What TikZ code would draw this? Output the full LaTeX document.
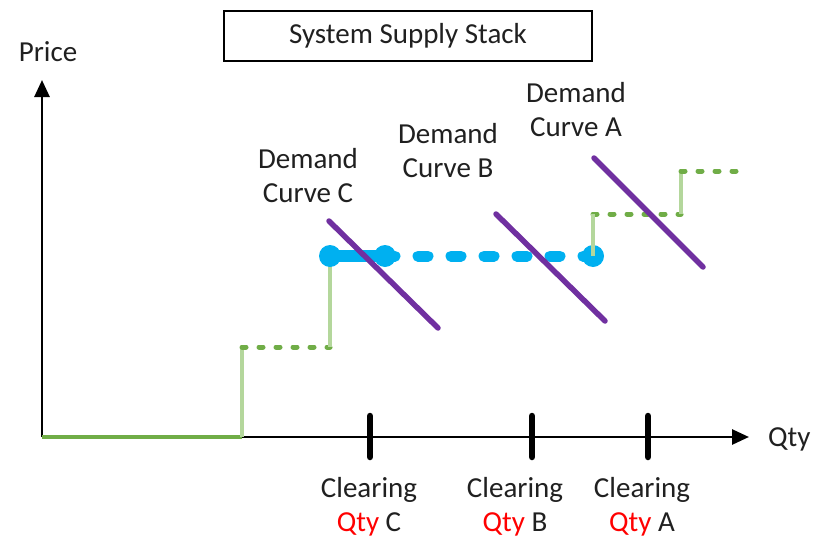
\documentclass[tikz,border=0pt]{standalone}
\usepackage{fontspec}
\setmainfont{Carlito}
\usetikzlibrary{arrows.meta}
\definecolor{demandpurple}{HTML}{7030A0}
\definecolor{clearblue}{HTML}{00B0F0}
\definecolor{stepgreen}{HTML}{70AD47}
\definecolor{riselight}{HTML}{B4D79C}
\definecolor{labelgray}{HTML}{202020}
\begin{document}
\begin{tikzpicture}[x=1pt,y=-1pt,
  lbl/.style={font=\fontsize{29}{34}\selectfont, text=labelgray, align=center, inner sep=0pt},
  axis/.style={line width=2.8pt, -{Triangle[length=17pt,width=15pt]}},
  tickmark/.style={line width=6.5pt, line cap=round},
  riser/.style={line width=3.4pt, riselight},
  offer/.style={line width=5pt, stepgreen, line cap=round, dash pattern=on 4pt off 13pt},
  demand/.style={line width=5.5pt, demandpurple, line cap=round},
  clearing/.style={line width=12pt, clearblue, line cap=round},
  clearingdash/.style={line width=11pt, clearblue, line cap=round, dash pattern=on 10pt off 23pt},
  dot/.style={circle, fill=clearblue, minimum size=22pt, inner sep=0pt}]
\useasboundingbox (0,0) rectangle (827,538);

% title
\node[draw, line width=2.8pt, minimum width=368pt, minimum height=50pt, lbl] (title) at (408,36) {System Supply Stack};

% axes
\coordinate (O) at (42,437);
\coordinate (ytip) at (42,80);
\coordinate (xtip) at (749,437);
\draw[axis] (O) -- (ytip);
\draw[axis] (O) -- (xtip);
\node[lbl] (price) at (48,52) {Price};
\node[lbl, anchor=west] (qty) at (768,439) {Qty};

% supply stack steps
\coordinate (s0) at (242,437);
\coordinate (s1) at (242,347);
\coordinate (s2) at (330,347);
\coordinate (s3) at (330,256);
\coordinate (s4) at (593,256);
\coordinate (s5) at (593,214);
\coordinate (s6) at (681,214);
\coordinate (s7) at (681,171);
\coordinate (s8) at (747,171);
\draw[line width=4.2pt, stepgreen] (O) -- (s0);
\draw[riser] (s0) -- (s1);
\draw[offer] (s1) -- (s2);
\draw[riser] (s2) -- (s3);
\draw[offer] (s5) -- (s6);
\draw[riser] (s6) -- (s7);
\draw[offer] (s7) -- (s8);

% clearing price segment
\coordinate (b1) at (385,256);
\draw[clearingdash] (b1) -- (s4);
\draw[clearing] (s3) -- (b1);
\node[dot] (dotC) at (s3) {};
\node[dot] (dotB) at (b1) {};
\node[dot] (dotA) at (s4) {};
\draw[riser] (s4) -- (s5);

% demand curves
\draw[demand] (329,221) -- (438,328);
\draw[demand] (496,214) -- (605,321);
\draw[demand] (594,158) -- (703,267);
\node[lbl] (dC) at (308,176) {Demand\\Curve C};
\node[lbl] (dB) at (448,151) {Demand\\Curve B};
\node[lbl] (dA) at (576,110) {Demand\\Curve A};

% clearing quantities
\foreach \x in {370,532,648}
  \draw[tickmark] (\x,416) -- (\x,457);
\node[lbl] (qC) at (369,507) {Clearing\\\textcolor{red}{Qty} C};
\node[lbl] (qB) at (515,507) {Clearing\\\textcolor{red}{Qty} B};
\node[lbl] (qA) at (642,507) {Clearing\\\textcolor{red}{Qty} A};
\end{tikzpicture}
\end{document}
